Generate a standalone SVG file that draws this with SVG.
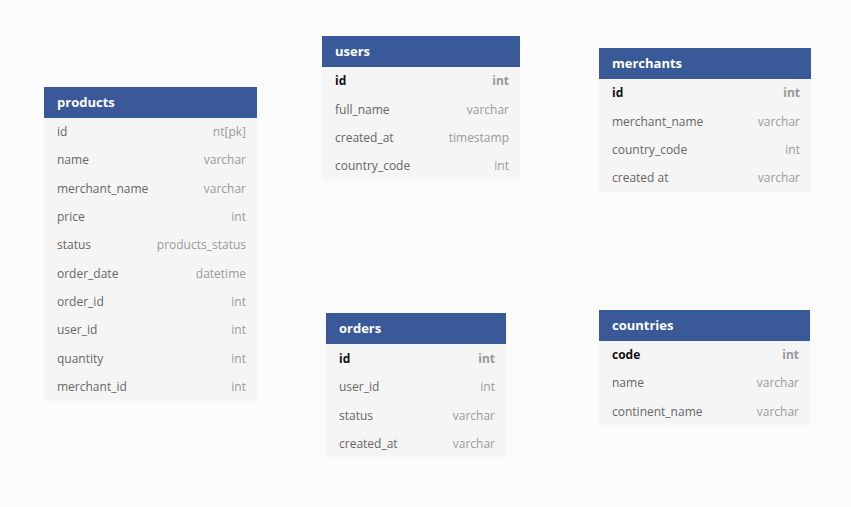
<svg xmlns="http://www.w3.org/2000/svg" width="851" height="507" viewBox="0 0 851 507">
<style>
.bg{fill:#fbfbfb}
.hd{fill:#3a5999}
.bd{fill:#f5f5f5}
.ht{font-family:"Open Sans","DejaVu Sans",sans-serif;font-size:13px;font-weight:bold;fill:#ffffff}
.cn{font-family:"Open Sans","DejaVu Sans",sans-serif;font-size:12px;fill:#666666}
.ct{font-family:"Open Sans","DejaVu Sans",sans-serif;font-size:12px;fill:#9a9a9a;text-anchor:end}
.pk{font-weight:bold;fill:#111111}
.pt{font-weight:bold;fill:#999999}
</style>
<rect class="bg" x="0" y="0" width="851" height="507"/>
<g id="products">
<rect class="bd" x="44" y="117" width="213" height="284"/>
<rect class="hd" x="44" y="87" width="213" height="31"/>
<text class="ht" x="57" y="107">products</text>
<text class="cn" x="57" y="135.5">id</text><text class="ct" x="246" y="135.5">nt[pk]</text>
<text class="cn" x="57" y="164">name</text><text class="ct" x="246" y="164">varchar</text>
<text class="cn" x="57" y="192.5">merchant_name</text><text class="ct" x="246" y="192.5">varchar</text>
<text class="cn" x="57" y="220.5">price</text><text class="ct" x="246" y="220.5">int</text>
<text class="cn" x="57" y="249">status</text><text class="ct" x="246" y="249">products_status</text>
<text class="cn" x="57" y="277.5">order_date</text><text class="ct" x="246" y="277.5">datetime</text>
<text class="cn" x="57" y="305.5">order_id</text><text class="ct" x="246" y="305.5">int</text>
<text class="cn" x="57" y="334">user_id</text><text class="ct" x="246" y="334">int</text>
<text class="cn" x="57" y="362.5">quantity</text><text class="ct" x="246" y="362.5">int</text>
<text class="cn" x="57" y="390.5">merchant_id</text><text class="ct" x="246" y="390.5">int</text>
</g>
<g id="users">
<rect class="bd" x="322" y="66" width="198" height="114"/>
<rect class="hd" x="322" y="36" width="198" height="31"/>
<text class="ht" x="335" y="56">users</text>
<text class="cn pk" x="335" y="84.5">id</text><text class="ct pt" x="509" y="84.5">int</text>
<text class="cn" x="335" y="113.5">full_name</text><text class="ct" x="509" y="113.5">varchar</text>
<text class="cn" x="335" y="141.5">created_at</text><text class="ct" x="509" y="141.5">timestamp</text>
<text class="cn" x="335" y="169.5">country_code</text><text class="ct" x="509" y="169.5">int</text>
</g>
<g id="merchants">
<rect class="bd" x="599" y="78" width="212" height="114"/>
<rect class="hd" x="599" y="48" width="212" height="31"/>
<text class="ht" x="612" y="68">merchants</text>
<text class="cn pk" x="612" y="96.5">id</text><text class="ct pt" x="800" y="96.5">int</text>
<text class="cn" x="612" y="125.5">merchant_name</text><text class="ct" x="800" y="125.5">varchar</text>
<text class="cn" x="612" y="153.5">country_code</text><text class="ct" x="800" y="153.5">int</text>
<text class="cn" x="612" y="181.5">created at</text><text class="ct" x="800" y="181.5">varchar</text>
</g>
<g id="orders">
<rect class="bd" x="326" y="343" width="180" height="114"/>
<rect class="hd" x="326" y="313" width="180" height="31"/>
<text class="ht" x="339" y="333">orders</text>
<text class="cn pk" x="339" y="362.5">id</text><text class="ct pt" x="495" y="362.5">int</text>
<text class="cn" x="339" y="390.5">user_id</text><text class="ct" x="495" y="390.5">int</text>
<text class="cn" x="339" y="419.5">status</text><text class="ct" x="495" y="419.5">varchar</text>
<text class="cn" x="339" y="447.5">created_at</text><text class="ct" x="495" y="447.5">varchar</text>
</g>
<g id="countries">
<rect class="bd" x="599" y="340" width="211" height="85"/>
<rect class="hd" x="599" y="310" width="211" height="31"/>
<text class="ht" x="612" y="330">countries</text>
<text class="cn pk" x="612" y="358.5">code</text><text class="ct pt" x="799" y="358.5">int</text>
<text class="cn" x="612" y="386.5">name</text><text class="ct" x="799" y="386.5">varchar</text>
<text class="cn" x="612" y="415.5">continent_name</text><text class="ct" x="799" y="415.5">varchar</text>
</g>
<g id="connectors"></g>
</svg>
